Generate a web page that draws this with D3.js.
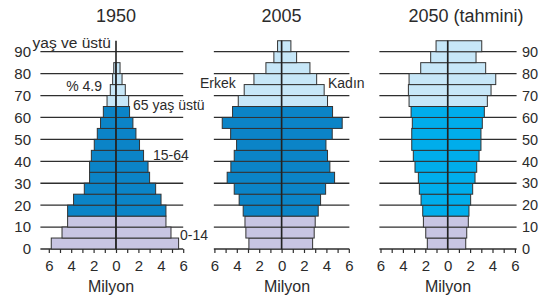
<!DOCTYPE html>
<html>
<head>
<meta charset="utf-8">
<script src="https://cdn.jsdelivr.net/npm/d3@7"></script>
<style>
  body { margin: 0; background: #fff; }
  svg { display: block; font-family: 'Liberation Sans', Arial, sans-serif; }
  text { fill: #2b2b2b; }
</style>
</head>
<body>
<svg width="539" height="303"></svg>
<script>
// 5-year age groups, bottom to top (last one is 90+)
const ageStarts = [0, 5, 10, 15, 20, 25, 30, 35, 40, 45, 50, 55, 60, 65, 70, 75, 80, 85, 90]

// millions
const male1950 = [5.78, 4.82, 4.32, 4.32, 3.79, 2.83, 2.36, 2.36, 2.2, 1.94, 1.67, 1.38, 1.13, 0.8, 0.51, 0.3, 0.2, 0, 0]
const female1950 = [5.59, 4.91, 4.46, 4.46, 4.02, 3.54, 3.0, 2.86, 2.46, 2.1, 1.78, 1.51, 1.21, 1.13, 0.83, 0.54, 0.36, 0, 0]
const male2005 = [2.92, 3.19, 3.27, 3.43, 3.79, 4.23, 4.86, 4.53, 4.23, 4.02, 4.55, 5.3, 4.38, 3.87, 3.34, 2.47, 1.4, 0.69, 0.36]
const female2005 = [2.77, 2.91, 3.0, 3.27, 3.48, 3.93, 4.73, 4.31, 4.1, 3.96, 4.52, 5.41, 4.55, 4.1, 3.8, 3.13, 2.53, 1.34, 0.83]
const male2050 = [1.82, 1.96, 2.17, 2.23, 2.38, 2.53, 2.62, 2.92, 3.07, 3.21, 3.21, 3.16, 3.27, 3.45, 3.51, 3.45, 2.41, 1.52, 1.04]
const female2050 = [1.61, 1.7, 1.84, 1.9, 2.05, 2.23, 2.44, 2.59, 2.8, 2.97, 2.97, 3.09, 3.27, 3.54, 3.87, 4.29, 3.39, 2.53, 3.04]

const ageTicks = [0, 10, 20, 30, 40, 50, 60, 70, 80, 90]
const xTicks = [-6, -5, -4, -3, -2, -1, 0, 1, 2, 3, 4, 5, 6]

const panels = [
  { title: '1950', male: male1950, female: female1950, center: 116, grid: [-6.75, 6], mid: '#0b84c7', titleX: 116, unitX: 111 },
  { title: '2005', male: male2005, female: female2005, center: 281.6, grid: [-6.05, 6.05], mid: '#0b84c7', titleX: 281.6, unitX: 287 },
  { title: '2050 (tahmini)', male: male2050, female: female2050, center: 447.7, grid: [-6.1, 6.15], mid: '#00adeb', titleX: 466, unitX: 448 }
]

const PX_PER_MILLION = 11.2
const YOUNG = '#c8c5e3'
const OLD = '#c7e7f8'
const LINE = '#2e2e2e'

const svg = d3.select('svg')
const y = d3.scaleLinear().domain([0, 90]).range([249, 51.7])
const rowH = y(0) - y(5)

panels.forEach((p) => {
  const x = d3.scaleLinear()
    .domain([-6, 6])
    .range([p.center - 6 * PX_PER_MILLION, p.center + 6 * PX_PER_MILLION])
  const g = svg.append('g')

  // horizontal grid lines, behind the bars
  g.selectAll('line.grid')
    .data(ageTicks)
    .enter()
    .append('line')
    .attr('x1', x(p.grid[0]))
    .attr('x2', x(p.grid[1]))
    .attr('y1', d => y(d))
    .attr('y2', d => y(d))
    .style('stroke', LINE)
    .style('stroke-width', 1.3)

  const fillFor = (age) => age < 15 ? YOUNG : (age < 65 ? p.mid : OLD)

  const rows = ageStarts.map((a, i) => ({ age: a, m: p.male[i], f: p.female[i] }))

  g.selectAll('rect.m')
    .data(rows.filter(d => d.m > 0))
    .enter()
    .append('rect')
    .attr('x', d => x(-d.m))
    .attr('y', d => y(d.age + 5))
    .attr('width', d => x(0) - x(-d.m))
    .attr('height', rowH)
    .attr('fill', d => fillFor(d.age))
    .style('stroke', '#333')
    .style('stroke-width', 1)

  g.selectAll('rect.f')
    .data(rows.filter(d => d.f > 0))
    .enter()
    .append('rect')
    .attr('x', x(0))
    .attr('y', d => y(d.age + 5))
    .attr('width', d => x(d.f) - x(0))
    .attr('height', rowH)
    .attr('fill', d => fillFor(d.age))
    .style('stroke', '#333')
    .style('stroke-width', 1)

  // centre line
  g.append('line')
    .attr('x1', x(0)).attr('x2', x(0))
    .attr('y1', y(0)).attr('y2', y(95))
    .style('stroke', '#222')
    .style('stroke-width', 1.6)

  // bottom axis
  const axis = d3.axisBottom(x)
    .tickValues(xTicks)
    .tickFormat(d => d % 2 === 0 ? Math.abs(d) : '')
    .tickSize(4)
    .tickSizeOuter(0)
    .tickPadding(7)
  const ax = g.append('g')
    .attr('transform', `translate(0,${y(0)})`)
    .call(axis)
  ax.select('.domain').remove()
  ax.selectAll('line').style('stroke', LINE).style('stroke-width', 1.2)
  ax.selectAll('text')
    .style('font-size', '15px')
    .style('fill', '#2b2b2b')
    .attr('font-family', null)

  g.append('text')
    .attr('x', p.unitX)
    .attr('y', 292)
    .attr('text-anchor', 'middle')
    .style('font-size', '16px')
    .text('Milyon')

  g.append('text')
    .attr('x', p.titleX)
    .attr('y', 22)
    .attr('text-anchor', 'middle')
    .style('font-size', '18px')
    .text(p.title)
})

// age labels: left of first panel, right of last panel
svg.selectAll('text.ageL')
  .data(ageTicks)
  .enter()
  .append('text')
  .attr('x', 31)
  .attr('y', d => y(d))
  .attr('dy', '0.36em')
  .attr('text-anchor', 'end')
  .style('font-size', '15px')
  .text(d => d)

svg.selectAll('text.ageR')
  .data(ageTicks)
  .enter()
  .append('text')
  .attr('x', 522)
  .attr('y', d => y(d))
  .attr('dy', '0.36em')
  .style('font-size', '14.5px')
  .text(d => d)

// annotations
const notes = [
  { t: 'yaş ve üstü', x: 111, y: 42, anchor: 'end', size: 15.5 },
  { t: '% 4.9', x: 102, y: 86, anchor: 'end', size: 14 },
  { t: '65 yaş üstü', x: 133, y: 105, anchor: 'start', size: 14 },
  { t: '15-64', x: 153, y: 155, anchor: 'start', size: 14 },
  { t: '0-14', x: 180, y: 235, anchor: 'start', size: 14 },
  { t: 'Erkek', x: 200, y: 82.7, anchor: 'start', size: 14 },
  { t: 'Kadın', x: 328, y: 82.7, anchor: 'start', size: 14 }
]
svg.selectAll('text.note')
  .data(notes)
  .enter()
  .append('text')
  .attr('x', d => d.x)
  .attr('y', d => d.y)
  .attr('dy', '0.36em')
  .attr('text-anchor', d => d.anchor)
  .style('font-size', d => d.size + 'px')
  .text(d => d.t)
</script>
</body>
</html>
